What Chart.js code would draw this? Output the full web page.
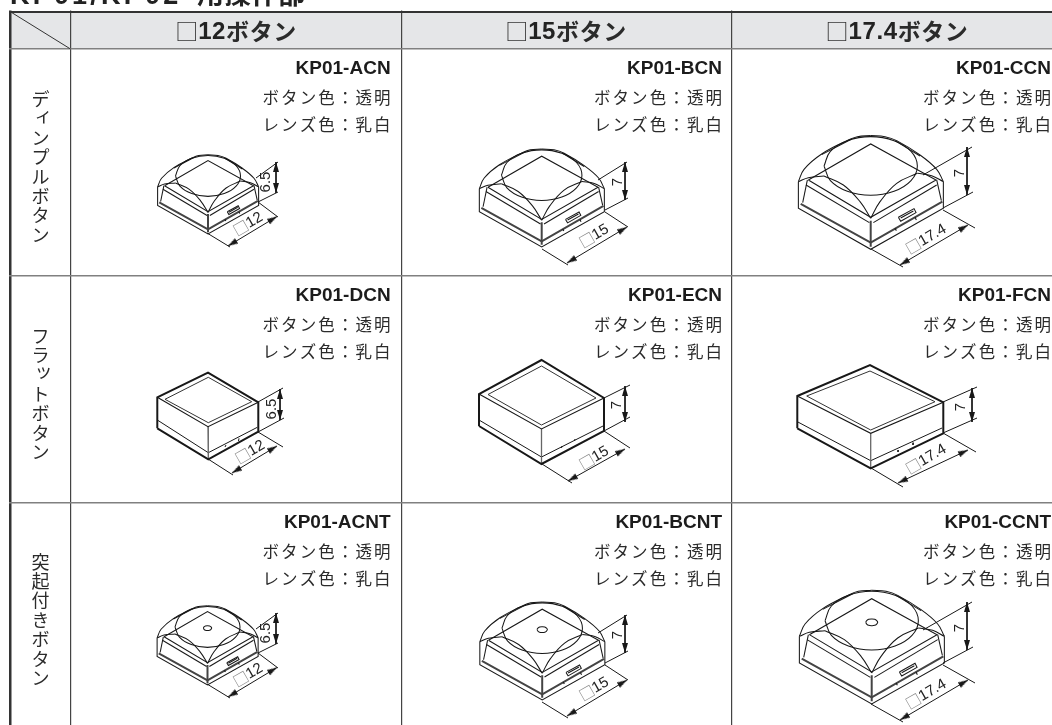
<!DOCTYPE html>
<html>
<head>
<meta charset="utf-8">
<style>
  html, body { margin: 0; padding: 0; background: #fff; }
  canvas { display: block; }
</style>
<script src="https://cdn.jsdelivr.net/npm/chart.js@4"></script>
</head>
<body>
<canvas id="buttonChart" width="1052" height="725"></canvas>
<script>
const INK = "#181818";
const TEXT_COLOR = "#2b2b2b";
const CJK = "'Noto Sans CJK JP'";

const titleLatin = "KP01/KP02";
const titleKanji = "用操作部";
const headerSizes = ["12", "15", "17.4"];
const headerSuffix = "ボタン";
const rowNames = ["ディンプルボタン", "フラットボタン", "突起付きボタン"];
const partNumbers = [
    ["KP01-ACN", "KP01-BCN", "KP01-CCN"],
    ["KP01-DCN", "KP01-ECN", "KP01-FCN"],
    ["KP01-ACNT", "KP01-BCNT", "KP01-CCNT"]
];
const buttonColorLabel = "ボタン色：透明";
const lensColorLabel = "レンズ色：乳白";
const heightLabels = ["6.5", "7", "7"];

// table rules, in picture pixels
const columnEdges = [10, 70.5, 401.5, 732];
const rowEdges = [11.5, 49, 275.5, 503];
const headerCenters = [236, 566, 897];
const cellRights = [390.6, 722, 1051];
const rowTextTops = [69, 296, 523];
const rowNameCenters = [167, 394, 620];

const domeStraight = [
    [[55, 155], [55, 235], [272, 358], [490, 235], [490, 155]],
    [[85, 150], [272, 42], [468, 150], [272, 262], [85, 150]],
    [[78, 165], [268, 278]],
    [[470, 165], [280, 278]],
    [[82, 150], [68, 218]],
    [[470, 150], [484, 212]],
    [[125, 74], [215, 27]],
    [[345, 32], [420, 78]],
    [[355, 262], [402, 236], [408, 248], [362, 274], [355, 262]],
    [[362, 264], [400, 243]],
    [[345, 295], [349, 302]],
    [[405, 262], [409, 270]]
];
const domeHeavy = [
    [[62, 222], [272, 338], [487, 215]],
    [[272, 272], [272, 350]]
];
const domeCurves = [
    [[55, 155], [72, 118], [125, 72], [205, 30], [232, 20], [272, 17]],
    [[272, 17], [315, 20], [350, 32], [420, 75], [470, 118], [490, 155]],
    [[55, 155], [85, 143], [132, 138]],
    [[132, 138], [190, 165], [240, 215], [272, 265]],
    [[490, 155], [455, 137], [412, 130]],
    [[412, 130], [350, 160], [300, 215], [272, 265]],
    [[132, 108], [151, 64], [202, 32], [272, 20], [342, 32], [393, 64], [412, 108], [393, 152], [342, 184], [272, 196], [202, 184], [151, 152], [132, 108]]
];
const nubCurve = [[254, 113], [257, 108], [263, 104], [272, 103], [281, 104], [287, 108], [290, 113], [287, 118], [281, 122], [272, 123], [263, 122], [257, 118], [254, 113]];
const domeScales = [0.2322, 0.2874, 0.3333];
const domeOriginsTop = [[208, 234], [541.7, 247], [870.7, 249.3]];
const domeOriginsBottom = [[207.5, 685], [542.2, 700], [871.7, 704]];

// flat buttons
const flat12 = {
    lt: [157.3, 397.3], bk: [208, 372.7], rt: [258.3, 402.3], ft: [208, 426.7],
    lb: [157.3, 428.3], fb: [208.3, 459.3], rb: [258.3, 431.7],
    inner: [[165, 399.3], [208.3, 377.3], [251.7, 401.7], [208.3, 422.7], [165, 399.3]],
    seam: [[157.3, 420], [208.3, 452.7], [257.3, 427.3]],
    ticks: [[[226, 445], [225, 447]], [[239, 438.3], [238.5, 441]]]
};
const flat15 = {
    lt: [479, 394], bk: [541.5, 360], rt: [604, 398], ft: [541.5, 429],
    lb: [479, 426], fb: [541.5, 464], rb: [604, 431],
    inner: [[488, 394.5], [541.5, 366], [596, 398], [541.5, 425], [488, 394.5]],
    seam: [[479, 420], [541.5, 457], [603, 426]],
    ticks: [[[562, 446], [561.5, 448]], [[575, 439], [574.5, 441]]]
};
const flat174 = {
    lt: [797.3, 396], bk: [870, 365], rt: [943.3, 402.3], ft: [870.7, 433.3],
    lb: [797.3, 428.3], fb: [870.7, 468.3], rb: [943.3, 433.3],
    inner: [[806.7, 396], [870, 371], [935, 401.7], [870.7, 430], [806.7, 396]],
    seam: [[797.3, 421.7], [870.7, 460.7], [942, 428]],
    ticks: [[[898.3, 450], [898, 452]], [[913.3, 442.7], [913, 445]]]
};

// dimension lines: extension lines, then height arrow, then width arrow
const dims = [
    // row 1
    { ext: [[[256, 178], [278, 162]], [[258, 202], [278, 192]], [[258, 202], [278, 217]], [[207, 233], [230, 247]]],
      h: [[276, 162], [276, 193]], w: [[228, 246], [277, 216.5]], hText: [266, 182], wText: [248, 224] },
    { ext: [[[598, 180], [627, 162]], [[605, 210], [628, 198]], [[605, 212], [628, 227]], [[542, 249], [568, 265]]],
      h: [[625, 162], [625, 200]], w: [[567, 263], [627, 227]], hText: [618, 182], wText: [594, 236] },
    { ext: [[[923, 175], [972, 147]], [[943, 208], [973, 192]], [[943, 210], [975, 228]], [[871, 249], [903, 267]]],
      h: [[967, 147], [967, 195]], w: [[900, 265], [968, 225]], hText: [960, 173], wText: [926, 239] },
    // row 2
    { ext: [[[258, 402], [283, 388]], [[258, 432], [284, 418]], [[258, 432], [283, 447]], [[208, 459], [233, 475]]],
      h: [[280, 389], [280, 420]], w: [[232, 473], [277, 446]], hText: [272, 409], wText: [250, 452] },
    { ext: [[[604, 398], [630, 385]], [[604, 431], [630, 417]], [[604, 431], [630, 448]], [[542, 464], [572, 483]]],
      h: [[625, 386], [625, 422]], w: [[568, 481], [625, 449]], hText: [617, 405], wText: [594, 458] },
    { ext: [[[943, 402], [977, 387]], [[943, 433], [977, 418]], [[943, 433], [976, 452]], [[871, 468], [903, 487]]],
      h: [[972, 388], [972, 422]], w: [[898, 483], [968, 450]], hText: [961, 407], wText: [926, 459] }
];
const bottomRowShifts = [451, 453, 455];

const datasets = [];

const addLine = (points, color, width, tension) => {
    datasets.push({
        data: points.map(p => ({ x: p[0], y: p[1] })),
        showLine: true,
        borderColor: color,
        borderWidth: width,
        tension: tension,
        pointRadius: 0,
        pointHoverRadius: 0
    });
};

const arrowImage = document.createElement("canvas");
arrowImage.width = 6;
arrowImage.height = 20;
const arrowCtx = arrowImage.getContext("2d");
arrowCtx.fillStyle = INK;
arrowCtx.beginPath();
arrowCtx.moveTo(3, 10);
arrowCtx.lineTo(6, 20);
arrowCtx.lineTo(0, 20);
arrowCtx.closePath();
arrowCtx.fill();

const addArrow = (a, b) => {
    const angle = Math.atan2(b[0] - a[0], a[1] - b[1]) * 180 / Math.PI;
    datasets.push({
        data: [{ x: a[0], y: a[1] }, { x: b[0], y: b[1] }],
        showLine: true,
        borderColor: INK,
        borderWidth: 1,
        pointStyle: arrowImage,
        pointRadius: 4,
        pointHoverRadius: 4,
        pointRotation: [angle + 180, angle]
    });
};

const addDims = (d, dy) => {
    const move = p => [p[0], p[1] + dy];
    d.ext.forEach(l => addLine(l.map(move), INK, 1, 0));
    addArrow(move(d.h[0]), move(d.h[1]));
    addArrow(move(d.w[0]), move(d.w[1]));
};

const addDome = (origin, s, withNub) => {
    const place = p => [origin[0] + (p[0] - 272) * s, origin[1] + (p[1] - 358) * s];
    domeStraight.forEach(l => addLine(l.map(place), INK, 1.05, 0));
    domeHeavy.forEach(l => addLine(l.map(place), "#444", 2, 0));
    domeCurves.forEach(l => addLine(l.map(place), INK, 1.05, 0.4));
    if (withNub) addLine(nubCurve.map(place), INK, 1.05, 0.4);
};

const addFlat = f => {
    addLine([f.lb, f.lt, f.bk, f.rt, f.rb, f.fb, f.lb], INK, 2, 0);
    addLine([f.lt, f.ft, f.rt], INK, 1.1, 0);
    addLine([f.ft, f.fb], "#666", 1.3, 0);
    addLine(f.inner, "#333", 1, 0);
    addLine(f.seam, INK, 1, 0);
    f.ticks.forEach(t => addLine(t, INK, 1, 0));
};

addLine([[columnEdges[0], rowEdges[0]], [columnEdges[1], rowEdges[1]]], "#333", 1, 0);
for (let i = 0; i < 3; i++) {
    addDome(domeOriginsTop[i], domeScales[i], false);
    addDome(domeOriginsBottom[i], domeScales[i], true);
    addDims(dims[i], 0);
    addDims(dims[i + 3], 0);
    addDims(dims[i], bottomRowShifts[i]);
}
[flat12, flat15, flat174].forEach(addFlat);

// text in the cells, put on the page through the scales
const spaced = (ctx, str, x, y, font, color, spacing, align) => {
    ctx.font = font;
    ctx.fillStyle = color;
    ctx.letterSpacing = (spacing || 0) + "px";
    ctx.textAlign = align || "left";
    ctx.textBaseline = "middle";
    ctx.fillText(str, x, y);
    ctx.letterSpacing = "0px";
};

const tablePlugin = {
    id: "tableText",
    beforeDraw(chart) {
        const ctx = chart.ctx;
        const sx = chart.scales.x;
        const sy = chart.scales.y;
        const left = sx.getPixelForValue(columnEdges[0]);
        const top = sy.getPixelForValue(rowEdges[0]);
        ctx.save();
        ctx.fillStyle = "#e5e6e8";
        ctx.fillRect(left, top, sx.right - left, sy.getPixelForValue(rowEdges[1]) - top);
        ctx.restore();
    },
    afterDraw(chart) {
        const ctx = chart.ctx;
        const sx = chart.scales.x;
        const sy = chart.scales.y;
        const X = v => sx.getPixelForValue(v);
        const Y = v => sy.getPixelForValue(v);
        ctx.save();

        // title, cut off by the top of the picture
        ctx.textBaseline = "alphabetic";
        ctx.textAlign = "left";
        ctx.fillStyle = "#222";
        ctx.font = "bold 27px 'Liberation Sans'";
        ctx.letterSpacing = "3.2px";
        ctx.fillText(titleLatin, 10, 4);
        ctx.letterSpacing = "0px";
        ctx.font = "bold 27px " + CJK;
        ctx.fillText(titleKanji, 197, 4);

        // column headers
        headerSizes.forEach((size, i) => {
            const latinFont = "bold 24px 'Liberation Sans'";
            const kanaFont = "bold 23px " + CJK;
            ctx.font = latinFont;
            ctx.letterSpacing = "0.6px";
            const sizeWidth = ctx.measureText(size).width;
            ctx.font = kanaFont;
            const kanaWidth = ctx.measureText(headerSuffix).width;
            ctx.letterSpacing = "0px";
            const start = X(headerCenters[i]) - (sizeWidth + kanaWidth + 23) / 2;
            spaced(ctx, "□", start, Y(31), "23px " + CJK, "#333");
            spaced(ctx, size, start + 23, Y(32), latinFont, "#222", 0.6);
            spaced(ctx, headerSuffix, start + 23 + sizeWidth, Y(31), kanaFont, "#2b2b2b", 0.6);
        });

        // row names, set vertically a character at a time
        rowNames.forEach((name, r) => {
            const step = 19.4;
            const first = Y(rowNameCenters[r]) - step * (name.length - 1) / 2;
            Array.from(name).forEach((ch, i) => {
                const small = "ィッ".includes(ch);
                spaced(ctx, ch, X(40.5) + (small ? 3 : 0), first + i * step - (small ? 3 : 0), "18px " + CJK, TEXT_COLOR, 0, "center");
            });
        });

        // part numbers and colour lines
        partNumbers.forEach((row, r) => {
            row.forEach((part, c) => {
                const x = X(cellRights[c]);
                const y = Y(rowTextTops[r]);
                spaced(ctx, part, x, y, "bold 19px 'Liberation Sans'", "#1c1c1c", 0, "right");
                spaced(ctx, buttonColorLabel, x + 2.1, y + 29, "16.5px " + CJK, TEXT_COLOR, 2.1, "right");
                spaced(ctx, lensColorLabel, x + 2.1, y + 55.5, "16.5px " + CJK, TEXT_COLOR, 2.1, "right");
            });
        });

        // dimension figures
        const dimText = (d, i, dy) => {
            ctx.save();
            ctx.translate(X(d.hText[0]), Y(d.hText[1] + dy));
            ctx.rotate(-Math.PI / 2);
            spaced(ctx, heightLabels[i], 0, 0, "15px 'Liberation Sans'", "#222", 0, "center");
            ctx.restore();

            ctx.save();
            ctx.translate(X(d.wText[0]), Y(d.wText[1] + dy));
            ctx.rotate(-30 * Math.PI / 180);
            ctx.font = "15px 'Liberation Sans'";
            const w = ctx.measureText(headerSizes[i]).width;
            const all = w + 15;
            spaced(ctx, "□", -all / 2, 0, "15px " + CJK, "#8a8a8a");
            spaced(ctx, headerSizes[i], -all / 2 + 15, 0, "15px 'Liberation Sans'", "#222");
            ctx.restore();
        };
        for (let i = 0; i < 3; i++) {
            dimText(dims[i], i, 0);
            dimText(dims[i + 3], i, 0);
            dimText(dims[i], i, bottomRowShifts[i]);
        }
        ctx.restore();
    }
};

const ctx = document.getElementById("buttonChart").getContext("2d");

new Chart(ctx, {
    type: "scatter",
    data: { datasets: datasets },
    plugins: [tablePlugin],
    options: {
        responsive: false,
        animation: false,
        events: [],
        layout: { autoPadding: false, padding: { left: 9, top: 10.5, right: 0, bottom: 0 } },
        plugins: { legend: { display: false }, tooltip: { enabled: false } },
        scales: {
            x: {
                type: "linear",
                min: 9,
                max: 1052,
                afterBuildTicks: axis => { axis.ticks = columnEdges.map(v => ({ value: v })); },
                ticks: { display: false },
                border: { display: false },
                grid: {
                    drawTicks: false,
                    color: c => (c.tick && c.tick.value === columnEdges[0] ? "#333" : "#444"),
                    lineWidth: c => (c.tick && c.tick.value === columnEdges[0] ? 2.5 : 1.2)
                }
            },
            y: {
                type: "linear",
                reverse: true,
                min: 10.5,
                max: 725,
                afterBuildTicks: axis => { axis.ticks = rowEdges.map(v => ({ value: v })); },
                ticks: { display: false },
                border: { display: false },
                grid: {
                    drawTicks: false,
                    color: c => (c.tick && c.tick.value === rowEdges[0] ? "#333" : "#808080"),
                    lineWidth: c => (c.tick && c.tick.value === rowEdges[0] ? 2 : 1.5)
                }
            }
        }
    }
});
</script>
</body>
</html>
